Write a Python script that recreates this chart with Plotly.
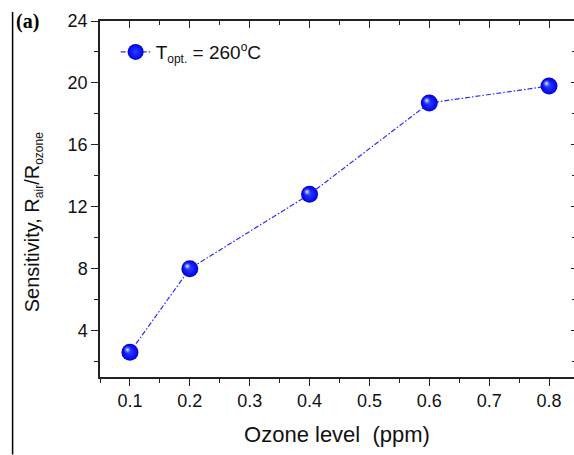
import plotly.graph_objects as go

# Data
ozone_ppm = [0.1, 0.2, 0.4, 0.6, 0.8]
sensitivity = [2.6, 8.0, 12.8, 18.7, 19.8]
series_name = ("T<sub><span style='font-size:12px'>opt.</span></sub> = 260"
               "<sup><span style='font-size:12px'>o</span></sup>C")
x_title = "Ozone level  (ppm)"
y_title = ("Sensitivity, R<sub><span style='font-size:12px'>air</span></sub>"
           "/R<sub><span style='font-size:12px'>ozone</span></sub>")

W, H = 574, 455
ml, mr, mt, mb = 99.5, 0, 21, 77.5
xr = [0.05, 0.8417]
yr = [1, 24]
pw = W - ml - mr
ph = H - mt - mb
# pixel offset for specular highlight on spheres
dx = 2.5 * (xr[1] - xr[0]) / pw
dy = 2.5 * (yr[1] - yr[0]) / ph

font = "Liberation Sans"
axcol = "#222222"

fig = go.Figure()
fig.add_trace(go.Scatter(
    x=ozone_ppm, y=sensitivity, name=series_name, mode="lines+markers",
    line=dict(color="#2a2aff", width=1.2, dash="5px,2px,1.5px,2px"),
    marker=dict(size=17, color="#0000e0", line=dict(width=0),
                gradient=dict(type="radial", color="#2a40ff")),
))
fig.add_trace(go.Scatter(
    x=ozone_ppm, y=sensitivity, mode="markers", showlegend=False,
    xaxis="x3", yaxis="y3", hoverinfo="skip",
    marker=dict(size=8, color="rgba(90,130,255,0)", line=dict(width=0),
                gradient=dict(type="radial", color="#f0f6ff")),
))

common_x = dict(range=xr, dtick=0.1, tick0=0.1, showgrid=False, zeroline=False,
                linecolor=axcol, linewidth=1.5, tickcolor=axcol, tickwidth=1.2)
common_y = dict(range=yr, dtick=4, tick0=0, showgrid=False, zeroline=False,
                linecolor=axcol, linewidth=1.5, tickcolor=axcol, tickwidth=1.2)

fig.update_layout(
    width=W, height=H,
    margin=dict(l=ml, r=mr, t=mt, b=mb, pad=0),
    paper_bgcolor="white", plot_bgcolor="white",
    font=dict(family=font, color="#111111", size=18),
    showlegend=True,
    legend=dict(x=0.033, y=0.966, xanchor="left", yanchor="top",
                bgcolor="rgba(0,0,0,0)", font=dict(size=19, family=font),
                itemwidth=30),
    xaxis=dict(**common_x, showline=True, ticks="outside", ticklen=7,
               minor=dict(dtick=0.05, ticks="outside", ticklen=4, tickcolor=axcol),
               tickfont=dict(size=18), tickformat=".1f",
               title=dict(text=x_title, font=dict(size=22), standoff=16)),
    xaxis2=dict(**common_x, overlaying="x", anchor="y", side="top", showline=True,
                ticks="inside", ticklen=7, showticklabels=False,
                minor=dict(dtick=0.05, ticks="inside", ticklen=4, tickcolor=axcol)),
    yaxis=dict(**common_y, showline=True, ticks="outside", ticklen=7,
               minor=dict(dtick=2, ticks="outside", ticklen=4, tickcolor=axcol),
               tickfont=dict(size=18)),
    yaxis2=dict(**common_y, overlaying="y", anchor="x", side="right", showline=False,
                ticks="inside", ticklen=3, showticklabels=False,
                minor=dict(dtick=2, ticks="inside", ticklen=2, tickcolor=axcol)),
    xaxis3=dict(range=[xr[0] + dx, xr[1] + dx], overlaying="x", visible=False),
    yaxis3=dict(range=[yr[0] - dy, yr[1] - dy], overlaying="y", visible=False,
                anchor="x3"),
)

# invisible trace so the mirror axes are drawn
fig.add_trace(go.Scatter(x=[], y=[], xaxis="x2", yaxis="y2", showlegend=False))

# y-axis title as a rotated annotation
fig.add_annotation(text=y_title, xref="paper", yref="paper", textangle=-90,
                   x=(33 - ml) / pw, y=(mt + ph - 223) / ph,
                   xanchor="center", yanchor="middle", showarrow=False,
                   font=dict(family=font, size=20, color="#111111"))

fig.add_annotation(text="<b>(a)</b>", xref="paper", yref="paper",
                   x=(13 - ml) / pw, y=(mt + ph - 21) / ph,
                   xanchor="left", yanchor="middle", showarrow=False,
                   font=dict(family="Liberation Serif", size=20, color="black"))
fig.add_shape(type="line", xref="paper", yref="paper",
              x0=(12 - ml) / pw, x1=(12 - ml) / pw,
              y0=(mt + ph - H) / ph, y1=(mt + ph - 12) / ph,
              line=dict(color="black", width=1.5))

fig.write_html("out.html")
